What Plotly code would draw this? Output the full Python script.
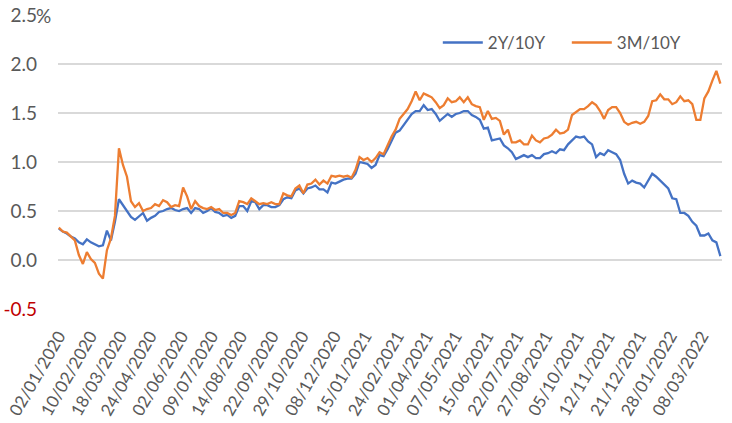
import plotly.graph_objects as go
import pandas as pd

# x-axis tick labels (category labels shown on the chart)
tick_labels = ["02/01/2020", "10/02/2020", "18/03/2020", "24/04/2020", "02/06/2020",
               "09/07/2020", "14/08/2020", "22/09/2020", "29/10/2020", "08/12/2020",
               "15/01/2021", "24/02/2021", "01/04/2021", "07/05/2021", "15/06/2021",
               "22/07/2021", "27/08/2021", "05/10/2021", "12/11/2021", "21/12/2021",
               "28/01/2022", "08/03/2022"]

# 2Y/10Y spread (%), ~5-day spacing from 02/01/2020 to 31/03/2022
spread_2y10y = [
    0.32, 0.29, 0.27, 0.24, 0.22, 0.18, 0.16, 0.21, 0.18, 0.16,
    0.14, 0.15, 0.30, 0.20, 0.39, 0.62, 0.56, 0.50, 0.44, 0.41,
    0.45, 0.48, 0.40, 0.43, 0.45, 0.49, 0.50, 0.52, 0.53, 0.51,
    0.50, 0.52, 0.53, 0.48, 0.53, 0.52, 0.48, 0.50, 0.53, 0.49,
    0.48, 0.45, 0.46, 0.43, 0.45, 0.55, 0.55, 0.50, 0.60, 0.59,
    0.52, 0.56, 0.56, 0.54, 0.54, 0.56, 0.62, 0.64, 0.63, 0.71,
    0.73, 0.68, 0.73, 0.74, 0.76, 0.72, 0.72, 0.69, 0.79, 0.78,
    0.80, 0.82, 0.83, 0.83, 0.88, 1.00, 0.99, 0.98, 0.94, 0.97,
    1.07, 1.06, 1.13, 1.22, 1.30, 1.32, 1.38, 1.44, 1.49, 1.52,
    1.52, 1.58, 1.53, 1.54, 1.49, 1.42, 1.46, 1.49, 1.46, 1.49,
    1.50, 1.52, 1.52, 1.48, 1.46, 1.43, 1.34, 1.35, 1.22, 1.23,
    1.24, 1.17, 1.14, 1.10, 1.03, 1.05, 1.07, 1.05, 1.07, 1.04,
    1.04, 1.08, 1.09, 1.11, 1.09, 1.13, 1.12, 1.18, 1.22, 1.26,
    1.25, 1.26, 1.21, 1.18, 1.05, 1.09, 1.07, 1.12, 1.10, 1.08,
    1.02, 0.88, 0.78, 0.81, 0.79, 0.78, 0.74, 0.81, 0.88, 0.85,
    0.81, 0.76, 0.73, 0.63, 0.62, 0.48, 0.48, 0.45, 0.39, 0.35,
    0.25, 0.25, 0.27, 0.20, 0.18, 0.04,
]

# 3M/10Y spread (%)
spread_3m10y = [
    0.33, 0.29, 0.28, 0.24, 0.20, 0.05, -0.04, 0.08, 0.01, -0.03,
    -0.14, -0.19, 0.10, 0.22, 0.45, 1.14, 0.97, 0.85, 0.60, 0.54,
    0.58, 0.50, 0.52, 0.53, 0.57, 0.55, 0.61, 0.59, 0.54, 0.56,
    0.55, 0.74, 0.65, 0.52, 0.60, 0.55, 0.53, 0.52, 0.54, 0.51,
    0.52, 0.48, 0.48, 0.46, 0.48, 0.60, 0.59, 0.57, 0.63, 0.60,
    0.57, 0.58, 0.57, 0.59, 0.57, 0.57, 0.68, 0.66, 0.65, 0.73,
    0.76, 0.68, 0.77, 0.78, 0.82, 0.77, 0.81, 0.78, 0.86, 0.85,
    0.86, 0.85, 0.86, 0.84, 0.92, 1.05, 1.02, 1.04, 1.00, 1.04,
    1.10, 1.08, 1.18, 1.26, 1.33, 1.44, 1.49, 1.54, 1.62, 1.72,
    1.63, 1.70, 1.68, 1.66, 1.61, 1.55, 1.58, 1.65, 1.61, 1.62,
    1.66, 1.61, 1.66, 1.59, 1.57, 1.56, 1.43, 1.52, 1.44, 1.45,
    1.42, 1.28, 1.33, 1.20, 1.20, 1.22, 1.18, 1.18, 1.27, 1.22,
    1.20, 1.24, 1.25, 1.28, 1.33, 1.29, 1.30, 1.33, 1.48, 1.51,
    1.54, 1.54, 1.57, 1.61, 1.58, 1.52, 1.44, 1.53, 1.56, 1.56,
    1.50, 1.41, 1.38, 1.40, 1.41, 1.39, 1.41, 1.47, 1.62, 1.63,
    1.69, 1.64, 1.64, 1.59, 1.61, 1.67, 1.62, 1.63, 1.59, 1.43,
    1.43, 1.65, 1.72, 1.83, 1.93, 1.80,
]

y_tick_vals = [-0.5, 0.0, 0.5, 1.0, 1.5, 2.0, 2.5]
y_tick_text = ["<span style='color:#C00000'>-0.5</span>", "0.0", "0.5", "1.0", "1.5", "2.0", "2.5"]
y_unit = "%"

dates = pd.date_range("2020-01-02", "2022-03-31", periods=len(spread_2y10y))
tick_dates = pd.to_datetime(tick_labels, format="%d/%m/%Y")

FONT = "Lato"
TXT = "#595959"

fig = go.Figure()
fig.add_trace(go.Scatter(x=dates, y=spread_2y10y, mode="lines", name="2Y/10Y",
                         line=dict(color="#4472C4", width=2.3)))
fig.add_trace(go.Scatter(x=dates, y=spread_3m10y, mode="lines", name="3M/10Y",
                         line=dict(color="#ED7D31", width=2.3)))

fig.add_annotation(text=y_unit, xref="paper", yref="y", x=-0.036, y=y_tick_vals[-1],
                   xanchor="left", yanchor="middle", showarrow=False,
                   font=dict(family=FONT, size=19, color=TXT))

fig.update_layout(
    width=732, height=423,
    margin=dict(l=58, r=10, t=15, b=114),
    paper_bgcolor="white", plot_bgcolor="white",
    font=dict(family=FONT, size=17, color=TXT),
    showlegend=True,
    legend=dict(orientation="h", x=0.572, y=0.905, xanchor="left", yanchor="middle",
                bgcolor="rgba(0,0,0,0)", font=dict(family=FONT, size=17, color=TXT),
                itemwidth=40, entrywidth=74, tracegroupgap=0),
    xaxis=dict(type="date", range=["2020-01-01", "2022-04-02"],
               tickvals=tick_dates, ticktext=tick_labels, tickangle=-60,
               showgrid=False, zeroline=False, showline=False, ticks="",
               ticklabelstandoff=13,
               automargin=False, tickfont=dict(family=FONT, size=17, color=TXT)),
    yaxis=dict(range=[-0.5, 2.5], tickvals=y_tick_vals, ticktext=y_tick_text,
               showgrid=True, gridcolor="#D9D9D9", gridwidth=1.5, zeroline=False,
               showline=False, ticks="", automargin=False, ticklabelstandoff=20,
               tickfont=dict(family=FONT, size=19, color=TXT)),
)

fig.write_html("out.html")
